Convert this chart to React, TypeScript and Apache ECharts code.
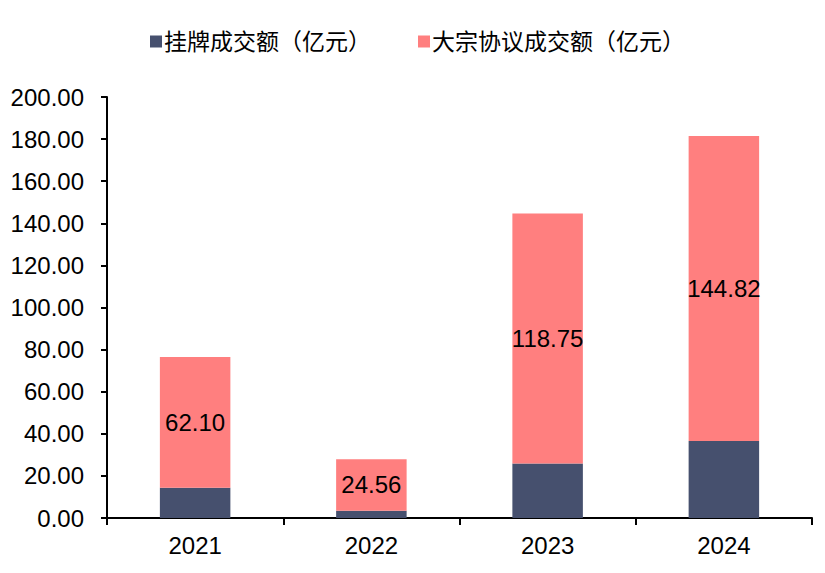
import React, { useEffect, useRef } from "react";
import * as echarts from "echarts";

const categories = ["2021", "2022", "2023", "2024"];
const listedValues = [14.4, 3.4, 25.9, 36.6];
const blockValues = [62.1, 24.56, 118.75, 144.82];
const seriesNames = ["挂牌成交额（亿元）", "大宗协议成交额（亿元）"];

const FONT = "Liberation Sans, Arial, Noto Sans CJK SC, sans-serif";

export default function App() {
  const ref = useRef<HTMLDivElement>(null);
  useEffect(() => {
    document.body.style.margin = "0";
    if (!ref.current) return;
    const chart = echarts.init(ref.current, null, { renderer: "svg" });
    chart.setOption({
      animation: false,
      backgroundColor: "#ffffff",
      textStyle: { fontFamily: FONT },
      legend: {
        left: 145,
        top: 25,
        itemWidth: 12,
        itemHeight: 12,
        itemGap: 47,
        icon: "rect",
        textStyle: { fontSize: 23, color: "#000", fontFamily: FONT, padding: [0, 0, 0, -3] },
        data: seriesNames,
      },
      grid: { left: 107, right: 13, top: 97, bottom: 55, containLabel: false },
      xAxis: {
        type: "category",
        data: categories,
        axisLine: { lineStyle: { color: "#000", width: 2 } },
        axisTick: { show: true, length: 7, lineStyle: { color: "#000", width: 2 } },
        axisLabel: { fontSize: 24, color: "#000", margin: 15, fontFamily: FONT },
      },
      yAxis: {
        type: "value",
        min: 0,
        max: 200,
        interval: 20,
        splitLine: { show: false },
        axisLine: { show: true, lineStyle: { color: "#000", width: 2 } },
        axisTick: { show: true, length: 6, lineStyle: { color: "#000", width: 2 } },
        axisLabel: {
          fontSize: 24,
          color: "#000",
          margin: 23,
          fontFamily: FONT,
          formatter: (v: number) => v.toFixed(2),
        },
      },
      series: [
        {
          name: seriesNames[0],
          type: "bar",
          stack: "total",
          barWidth: "40%",
          itemStyle: { color: "#46506E" },
          data: listedValues,
        },
        {
          name: seriesNames[1],
          type: "bar",
          stack: "total",
          barWidth: "40%",
          itemStyle: { color: "#FF7F7F" },
          label: {
            show: true,
            position: "inside",
            fontSize: 24,
            color: "#000",
            fontFamily: FONT,
            formatter: (p: any) => Number(p.value).toFixed(2),
          },
          data: blockValues,
        },
      ],
    });
    return () => chart.dispose();
  }, []);
  return <div ref={ref} style={{ width: 825, height: 573 }} />;
}
